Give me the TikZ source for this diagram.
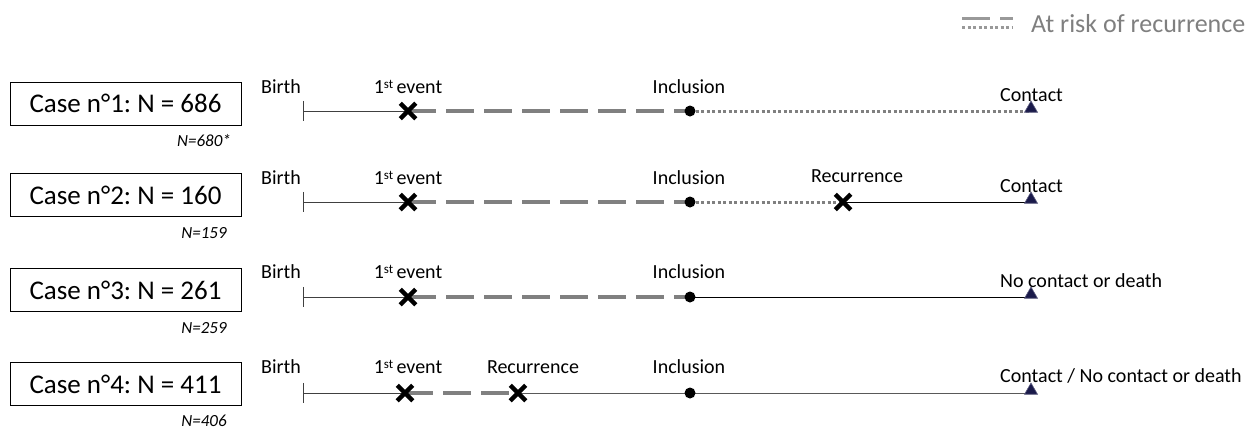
\documentclass[tikz,border=0pt]{standalone}
\usepackage{fontspec}
\setmainfont{Carlito}
\frenchspacing
\usetikzlibrary{shapes.misc,shapes.geometric,backgrounds}
\definecolor{riskgray}{HTML}{808080}
\definecolor{legendgray}{HTML}{7F7F7F}
\definecolor{navytri}{HTML}{1A1A4A}
\newcommand{\firstev}{1\raisebox{0.55ex}{\fontsize{13}{13}\selectfont st}\,event}
\tikzset{
  casebox/.style={draw, line width=1pt, minimum width=231pt, minimum height=43pt, inner sep=0pt, font=\fontsize{27}{32}\selectfont},
  nlbl/.style={inner sep=0pt, font=\fontsize{17}{20}\selectfont\itshape},
  lbl/.style={inner sep=0pt, font=\fontsize{20}{24}\selectfont},
  xmark/.style={cross out, draw=black, line width=4.5pt, minimum size=11pt, inner sep=0pt},
  dotmark/.style={circle, fill=black, minimum size=11pt, inner sep=0pt},
  trimark/.style={regular polygon, regular polygon sides=3, fill=navytri, draw=navytri!70!white, line width=0.6pt, minimum size=15pt, inner sep=0pt},
  birthpt/.style={inner sep=0pt, minimum width=0pt, minimum height=20pt},
  solidline/.style={draw=black!75, line width=1pt},
  riskdash/.style={draw=riskgray, line width=3.5pt, dash pattern=on 28pt off 10pt},
  riskdot/.style={draw=riskgray, line width=3pt, dash pattern=on 3pt off 2.5pt},
}
\begin{document}
\begin{tikzpicture}[x=1pt,y=-1pt]
\useasboundingbox (0,0) rectangle (1258,429);

% legend
\coordinate (lga) at (962,18);
\coordinate (lgb) at (1013,18);
\coordinate (lgc) at (962,27);
\coordinate (lgd) at (1013,27);
\draw[riskdash, draw=riskgray!80, line width=3pt] (lga) -- (lgb);
\draw[riskdot, draw=riskgray!80] (lgc) -- (lgd);
\node[inner sep=0pt, anchor=west, text=legendgray, font=\fontsize{26}{30}\selectfont] (legtext) at (1031,24) {At risk of recurrence};

% ---------- Row 1
\node[casebox] (box1) at (125.5,103.5) {Case n°1: N = 686};
\node[nlbl] (n1) at (204,141) {N=680*};
\node[birthpt] (b1) at (303,111) {};
\node[xmark] (e1) at (408,111) {};
\node[dotmark] (i1) at (690,111) {};
\node[trimark] (c1) at (1031,108.5) {};
\node[lbl] (lb1) at (281,87) {Birth};
\node[lbl] (le1) at (408,87) {\firstev};
\node[lbl] (li1) at (689,87) {Inclusion};
\node[lbl, anchor=west] (lc1) at (1000,95) {Contact};

% ---------- Row 2
\node[casebox] (box2) at (125.5,195) {Case n°2: N = 160};
\node[nlbl] (n2) at (204,233) {N=159};
\node[birthpt] (b2) at (303,202) {};
\node[xmark] (e2) at (408,202) {};
\node[dotmark] (i2) at (690,202) {};
\node[xmark] (r2) at (843,202) {};
\node[trimark] (c2) at (1031,199.5) {};
\node[lbl] (lb2) at (281,178) {Birth};
\node[lbl] (le2) at (408,178) {\firstev};
\node[lbl] (li2) at (689,178) {Inclusion};
\node[lbl] (lr2) at (857,176) {Recurrence};
\node[lbl, anchor=west] (lc2) at (1000,186) {Contact};

% ---------- Row 3
\node[casebox] (box3) at (125.5,290) {Case n°3: N = 261};
\node[nlbl] (n3) at (204,328) {N=259};
\node[birthpt] (b3) at (303,297) {};
\node[xmark] (e3) at (408,297) {};
\node[dotmark] (i3) at (690,297) {};
\node[trimark] (c3) at (1031,294.5) {};
\node[lbl] (lb3) at (281,272) {Birth};
\node[lbl] (le3) at (408,272) {\firstev};
\node[lbl] (li3) at (689,272) {Inclusion};
\node[lbl, anchor=west] (lc3) at (1000,281) {No contact or death};

% ---------- Row 4
\node[casebox] (box4) at (125.5,384) {Case n°4: N = 411};
\node[nlbl] (n4) at (204,421) {N=406};
\node[birthpt] (b4) at (303,393) {};
\node[xmark] (e4) at (405,393) {};
\node[xmark] (r4) at (518,393) {};
\node[dotmark] (i4) at (690,393) {};
\node[trimark] (c4) at (1031,390.5) {};
\node[lbl] (lb4) at (281,367) {Birth};
\node[lbl] (le4) at (408,367) {\firstev};
\node[lbl] (lr4) at (533,367) {Recurrence};
\node[lbl] (li4) at (689,367) {Inclusion};
\node[lbl, anchor=west] (lc4) at (1000,376) {Contact / No contact or death};

\begin{scope}[on background layer]
  % birth ticks
  \draw[solidline] (b1.north) -- (b1.south);
  \draw[solidline] (b2.north) -- (b2.south);
  \draw[solidline] (b3.north) -- (b3.south);
  \draw[solidline] (b4.north) -- (b4.south);
  % row 1
  \draw[solidline] (b1.center) -- (e1.center);
  \draw[riskdash] (e1.center) -- (i1.center);
  \draw[riskdot] (i1.center) -- (c1.center |- i1.center);
  % row 2
  \draw[solidline] (b2.center) -- (e2.center);
  \draw[riskdash] (e2.center) -- (i2.center);
  \draw[riskdot] (i2.center) -- (r2.center);
  \draw[solidline, draw=black] (r2.center) -- (c2.center |- r2.center);
  % row 3
  \draw[solidline] (b3.center) -- (e3.center);
  \draw[riskdash] (e3.center) -- (i3.center);
  \draw[solidline, draw=black] (i3.center) -- (c3.center |- i3.center);
  % row 4
  \draw[solidline] (b4.center) -- (e4.center);
  \draw[riskdash] (e4.center) -- (r4.center);
  \draw[solidline, draw=black!65] (r4.center) -- (c4.center |- r4.center);
\end{scope}
\end{tikzpicture}
\end{document}
